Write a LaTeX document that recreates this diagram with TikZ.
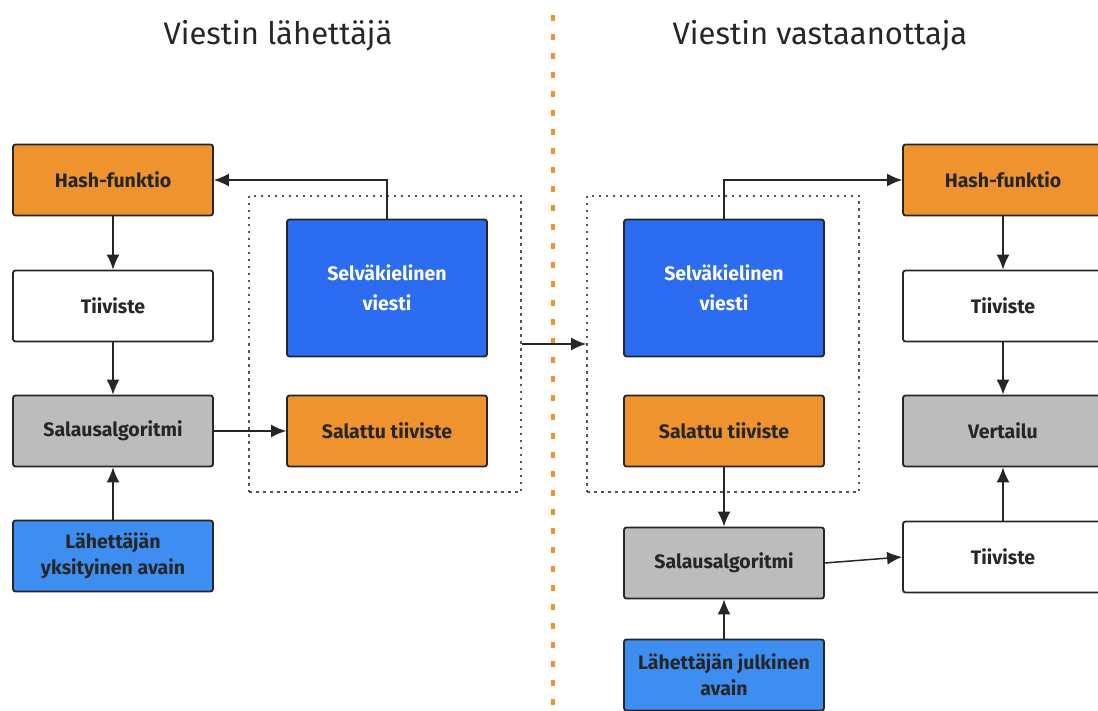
\documentclass[tikz,border=0pt]{standalone}
\usepackage{fontspec}
\setmainfont{Fira Sans}
\usetikzlibrary{arrows.meta}
\definecolor{orng}{HTML}{EE932E}
\definecolor{gry}{HTML}{BCBCBC}
\definecolor{dblue}{HTML}{2B6CF0}
\definecolor{lblue}{HTML}{3E8EF2}
\definecolor{dotgray}{HTML}{555555}
\tikzset{
  box/.style={draw=black!85, line width=1.8pt, rounded corners=2.5pt, minimum width=200pt, minimum height=71pt, inner sep=0pt, align=center, font=\fontsize{19.5}{26}\selectfont\bfseries, text=black!85},
  obox/.style={box, fill=orng},
  wbox/.style={box, fill=white},
  gbox/.style={box, fill=gry},
  dbbox/.style={box, fill=dblue, text=white, minimum height=137pt, font=\fontsize{19.5}{30}\selectfont\bfseries},
  lbbox/.style={box, fill=lblue},
  arr/.style={line width=1.5pt, draw=black!85, -{Latex[length=15pt,width=13pt]}},
  grp/.style={draw=dotgray, line width=1.8pt, dash pattern=on 2.5pt off 4.5pt},
  ttl/.style={font=\fontsize{31}{36}\selectfont, text=black!85}
}
\begin{document}
\begin{tikzpicture}[x=1pt,y=-1pt]
\useasboundingbox (0,0) rectangle (1098,711);
\clip (0,0) rectangle (1098,711);
% divider
\draw[draw=orng, line width=3.5pt, dash pattern=on 6pt off 13pt] (553,15) -- (553,711);
% titles
\node[ttl] (t1) at (278,36) {Viestin lähettäjä};
\node[ttl] (t2) at (820,36) {Viestin vastaanottaja};
% groups
\node[grp, minimum width=272pt, minimum height=296pt, inner sep=0pt] (gL) at (385,344) {};
\node[grp, minimum width=272pt, minimum height=296pt, inner sep=0pt] (gR) at (723,344) {};
% sender
\node[obox] (hL) at (113,180) {Hash-funktio};
\node[wbox] (tL) at (113,306) {Tiiviste};
\node[gbox] (sL) at (113,431) {Salausalgoritmi};
\node[lbbox] (kL) at (113,556) {Lähettäjän\\yksityinen avain};
\node[dbbox] (vL) at (387,288) {Selväkielinen\\viesti};
\node[obox] (stL) at (387,431) {Salattu tiiviste};
% receiver
\node[dbbox] (vR) at (724,288) {Selväkielinen\\viesti};
\node[obox] (stR) at (724,431) {Salattu tiiviste};
\node[gbox] (sR) at (724,563) {Salausalgoritmi};
\node[lbbox] (kR) at (724,675) {Lähettäjän julkinen\\avain};
\node[obox] (hR) at (1003,180) {Hash-funktio};
\node[wbox] (tR) at (1003,306) {Tiiviste};
\node[gbox] (cR) at (1003,431) {Vertailu};
\node[wbox] (t2R) at (1003,557) {Tiiviste};
% arrows sender
\draw[arr] (vL.north) |- (hL.east);
\draw[arr] (hL) -- (tL);
\draw[arr] (tL) -- (sL);
\draw[arr] (kL) -- (sL);
\draw[arr] (sL) -- (stL);
\draw[arr] (gL.east) -- (gR.west);
% arrows receiver
\draw[arr] (vR.north) |- (hR.west);
\draw[arr] (hR) -- (tR);
\draw[arr] (tR) -- (cR);
\draw[arr] (t2R) -- (cR);
\draw[arr] (stR) -- (sR);
\draw[arr] (kR) -- (sR);
\draw[arr] (sR.east) -- (t2R.west);
\end{tikzpicture}
\end{document}
